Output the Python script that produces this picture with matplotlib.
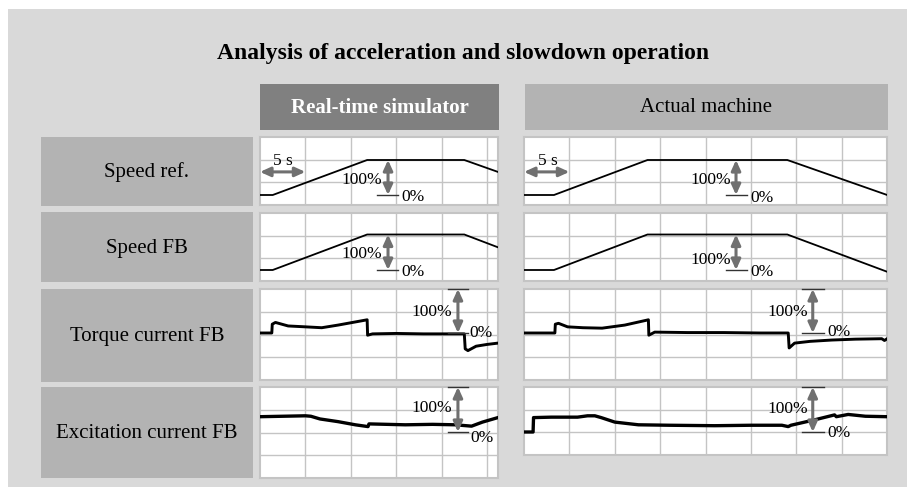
import matplotlib
matplotlib.use('Agg')
import matplotlib.pyplot as plt
from matplotlib.patches import Rectangle

plt.rcParams['font.family'] = ['Liberation Serif', 'DejaVu Serif']

W, H, DPI = 915, 495, 100

# ---------------- text ----------------
title = "Analysis of acceleration and slowdown operation"
columns = ["Real-time simulator", "Actual machine"]
rows = ["Speed ref.", "Speed FB", "Torque current FB", "Excitation current FB"]

# ---------------- data (time in s, value in %) ----------------
speed_ref_sim_t = [0, 1.4, 11.8, 22.5, 26.2]
speed_ref_sim_v = [0, 0, 100, 100, 66]
speed_ref_act_t = [0, 3.3, 13.6, 29.0, 40.0]
speed_ref_act_v = [0, 0, 100, 100, 0]

speed_fb_sim_t = [0, 1.4, 11.8, 22.5, 26.2]
speed_fb_sim_v = [0, 0, 100, 100, 64]
speed_fb_act_t = [0, 3.3, 13.6, 29.0, 40.0]
speed_fb_act_v = [0, 0, 100, 100, -5]

torque_sim_t = [0, 1.3, 1.35, 1.7, 3.1, 5.0, 6.8, 8.6, 10.2, 11.8, 11.85, 12.4,
                15.0, 18.0, 22.5, 22.6, 22.9, 23.8, 25.0, 26.2]
torque_sim_v = [0, 0, 20, 24, 16, 14, 12, 18, 24, 30, -5, -2,
                -1, -2, -2, -36, -40, -30, -26, -23]
torque_act_t = [0, 3.4, 3.45, 3.8, 4.8, 6.5, 8.6, 11.1, 13.7, 13.75, 14.4,
                18.0, 22.0, 26.0, 29.1, 29.2, 29.8, 31.5, 33.9, 36.5, 39.4, 39.7, 40.0]
torque_act_v = [0, 0, 20, 22, 14, 12, 11, 18, 30, -5, 2,
                1, 1, 0, 0, -34, -23, -19, -16, -14, -13, -17, -13]

excit_sim_t = [0, 2.5, 5.0, 5.6, 6.6, 8.6, 10.5, 11.9, 12.0, 16.0, 19.0, 21.5,
               23.3, 24.5, 26.2]
excit_sim_v = [34, 35, 36, 35, 29, 23, 16, 12, 18, 16, 17, 16,
               13, 22, 32]
excit_act_t = [0, 1.0, 1.05, 3.0, 5.9, 7.0, 7.8, 8.5, 10.0, 12.6, 16.0, 21.0,
               25.0, 28.4, 29.1, 29.4, 32.0, 34.2, 34.4, 35.7, 37.6, 40.0]
excit_act_v = [0, 0, 32, 33, 33, 36, 36, 32, 22, 16, 15, 14,
               15, 15, 12, 15, 27, 38, 34, 39, 35, 34]

series = [
    [(speed_ref_sim_t, speed_ref_sim_v), (speed_ref_act_t, speed_ref_act_v)],
    [(speed_fb_sim_t, speed_fb_sim_v), (speed_fb_act_t, speed_fb_act_v)],
    [(torque_sim_t, torque_sim_v), (torque_act_t, torque_act_v)],
    [(excit_sim_t, excit_sim_v), (excit_act_t, excit_act_v)],
]

# ---------------- layout (pixels) ----------------
BG = '#d9d9d9'
BOX = '#b3b3b3'
DARK = '#808080'
GRID = '#c4c4c4'
ARROW = '#707070'

col_x = [(260, 498), (524, 887)]
px_per_div = 45.4          # one grid division = 5 s
sec_per_div = 5
row_geo = [
    dict(top=137, bottom=(205, 205), zero=195, full=160, n=(3, 3), lw=1.3, box=(137, 206)),
    dict(top=213, bottom=(281, 281), zero=270, full=234.5, n=(3, 3), lw=1.3, box=(212, 282)),
    dict(top=289, bottom=(380, 380), zero=333, full=289, n=(4, 4), lw=2.1, box=(289, 382)),
    dict(top=387, bottom=(478, 455), zero=432, full=387, n=(4, 3), lw=2.4, box=(387, 478)),
]
annots = [
    [dict(ax=14.1, bar=(12.9, 15.2), t100=(13.4, 43), t0=(15.6, -6), top=False),
     dict(ax=23.35, bar=(22.2, 24.6), t100=(22.8, 43), t0=(24.9, -9), top=False)],
    [dict(ax=14.1, bar=(12.9, 15.2), t100=(13.4, 45), t0=(15.6, -6), top=False),
     dict(ax=23.35, bar=(22.2, 24.6), t100=(22.8, 28), t0=(24.9, -6), top=False)],
    [dict(ax=21.8, bar=(20.7, 22.9), t100=(21.1, 48), t0=(23.1, 0), top=True),
     dict(ax=31.8, bar=(30.6, 33.0), t100=(31.3, 48), t0=(33.4, 2), top=True)],
    [dict(ax=21.8, bar=(20.7, 22.9), t100=(21.1, 53), t0=(23.2, -13), top=True),
     dict(ax=31.8, bar=(30.6, 33.0), t100=(31.3, 51), t0=(33.4, -2), top=True)],
]
five_s = [dict(y=66, ty=96, tx=2.5), dict(y=66, ty=96, tx=2.6)]

fig = plt.figure(figsize=(W / DPI, H / DPI), dpi=DPI)
fig.patch.set_facecolor('white')

bg = fig.add_axes([0, 0, 1, 1])
bg.set_xlim(0, W)
bg.set_ylim(H, 0)
bg.axis('off')
bg.add_patch(Rectangle((8, 9), 899, 478, facecolor=BG, edgecolor='none'))
bg.text(463, 53, title, ha='center', va='center', fontsize=17, fontweight='bold')
bg.add_patch(Rectangle((260, 84), 239, 46, facecolor=DARK, edgecolor='none'))
bg.text(379.5, 108, columns[0], ha='center', va='center', fontsize=15,
        fontweight='bold', color='white')
bg.add_patch(Rectangle((525, 84), 363, 46, facecolor=BOX, edgecolor='none'))
bg.text(706.5, 108, columns[1], ha='center', va='center', fontsize=15, color='black')
for name, g in zip(rows, row_geo):
    y0, y1 = g['box']
    bg.add_patch(Rectangle((41, y0), 212, y1 - y0, facecolor=BOX, edgecolor='none'))
    bg.text(147, (y0 + y1) / 2 + 1, name, ha='center', va='center', fontsize=15)

arrow_props = dict(arrowstyle='<|-|>,head_length=0.55,head_width=0.25', color=ARROW,
                   lw=2.2, mutation_scale=11, shrinkA=0, shrinkB=0)

for r, g in enumerate(row_geo):
    for c in range(2):
        x0, x1 = col_x[c]
        y0, y1 = g['top'], g['bottom'][c]
        ax = fig.add_axes([x0 / W, 1 - y1 / H, (x1 - x0) / W, (y1 - y0) / H])
        ax.set_facecolor('white')
        s = (g['zero'] - g['full']) / 100.0
        val = lambda y: (g['zero'] - y) / s
        T = (x1 - x0) / px_per_div * sec_per_div
        ax.set_xlim(0, T)
        ax.set_ylim(val(y1), val(y0))
        n = g['n'][c]
        for k in range(1, n):
            ax.axhline(val(y0 + k * (y1 - y0) / n), color=GRID, lw=1, zorder=1)
        t = sec_per_div
        while t < T - 0.1:
            ax.axvline(t, color=GRID, lw=1, zorder=1)
            t += sec_per_div
        for sp in ax.spines.values():
            sp.set_color(GRID)
            sp.set_linewidth(1.5)
        ax.set_xticks([])
        ax.set_yticks([])

        tt, vv = series[r][c]
        ax.plot(tt, vv, color='black', lw=g['lw'], zorder=3, solid_joinstyle='round')

        a = annots[r][c]
        ax.plot(a['bar'], [0, 0], color='#333333', lw=1, zorder=4)
        if a['top']:
            ax.plot(a['bar'], [100, 100], color='#333333', lw=1, zorder=4, clip_on=False)
        ax.annotate('', xy=(a['ax'], 100), xytext=(a['ax'], 0),
                    arrowprops=arrow_props, zorder=5)
        ax.text(a['t100'][0], a['t100'][1], '100%', ha='right', va='center',
                fontsize=12.5, zorder=6)
        ax.text(a['t0'][0], a['t0'][1], '0%', ha='left', va='center',
                fontsize=12.5, zorder=6)
        if r == 0:
            f = five_s[c]
            ax.annotate('', xy=(sec_per_div, f['y']), xytext=(0, f['y']),
                        arrowprops=arrow_props, zorder=5)
            ax.text(f['tx'], f['ty'], '5 s', ha='center', va='center',
                    fontsize=12.5, zorder=6)

fig.savefig('out.png', dpi=DPI, facecolor=fig.get_facecolor())
